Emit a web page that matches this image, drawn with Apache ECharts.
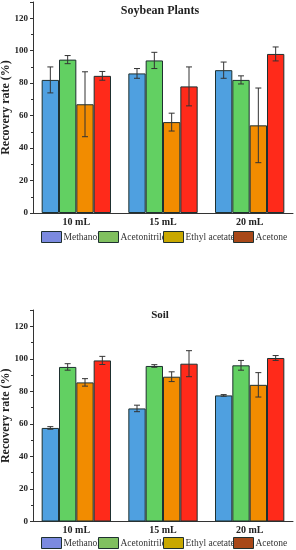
<!DOCTYPE html>
<html>
<head>
<meta charset="utf-8">
<script src="https://cdn.jsdelivr.net/npm/echarts@6/dist/echarts.min.js"></script>
<style>html,body{margin:0;padding:0;background:#fff;}#c{width:296px;height:550px;}</style>
</head>
<body>
<div id="c"></div>
<script>
var categories = ['10 mL', '15 mL', '20 mL'];
var seriesNames = ['Methanol', 'Acetonitrile', 'Ethyl acetate', 'Acetone'];
var yTicks = [0, 20, 40, 60, 80, 100, 120];

var soyMethanol = [82, 86, 88];
var soyMethanolErr = [8, 3, 5];
var soyAcetonitrile = [94.5, 94, 82];
var soyAcetonitrileErr = [2.5, 5, 2.5];
var soyEthyl = [67, 56, 54];
var soyEthylErr = [20, 5.5, 23];
var soyAcetone = [84.5, 78, 98];
var soyAcetoneErr = [2.7, 12, 4.3];

var soilMethanol = [57.5, 69.5, 77.5];
var soilMethanolErr = [0.8, 2, 0.5];
var soilAcetonitrile = [95, 95.6, 96];
var soilAcetonitrileErr = [2, 0.8, 3];
var soilEthyl = [85.5, 89, 84];
var soilEthylErr = [2.3, 3, 7.5];
var soilAcetone = [99, 97, 100.5];
var soilAcetoneErr = [2.5, 8, 1.5];

var barColors = ['#4fa0e0', '#62d062', '#f28c00', '#ff2a1a'];
var legendColors = ['#7b8ae0', '#80c060', '#c8a800', '#a84818'];
var serif = '"Liberation Serif", "DejaVu Serif", serif';

var soyVals = [soyMethanol, soyAcetonitrile, soyEthyl, soyAcetone];
var soyErrs = [soyMethanolErr, soyAcetonitrileErr, soyEthylErr, soyAcetoneErr];
var soilVals = [soilMethanol, soilAcetonitrile, soilEthyl, soilAcetone];
var soilErrs = [soilMethanolErr, soilAcetonitrileErr, soilEthylErr, soilAcetoneErr];

var catGap = 0.2;

function errData(vals, errs) {
  var out = [];
  for (var s = 0; s < vals.length; s++) {
    for (var i = 0; i < categories.length; i++) {
      out.push([i, vals[s][i], errs[s][i], s]);
    }
  }
  return out;
}

function renderErr(params, api) {
  var idx = api.value(0), v = api.value(1), e = api.value(2), s = api.value(3);
  var p = api.coord([idx, v]);
  var hi = api.coord([idx, v + e]);
  var lo = api.coord([idx, v - e]);
  var band = api.size([1, 0])[0];
  var bw = band * (1 - catGap) / 4;
  var x = p[0] + (s - 1.5) * bw;
  var cap = 3;
  var st = { stroke: '#333', lineWidth: 1 };
  return {
    type: 'group',
    children: [
      { type: 'line', shape: { x1: x, y1: hi[1], x2: x, y2: lo[1] }, style: st },
      { type: 'line', shape: { x1: x - cap, y1: hi[1], x2: x + cap, y2: hi[1] }, style: st },
      { type: 'line', shape: { x1: x - cap, y1: lo[1], x2: x + cap, y2: lo[1] }, style: st }
    ]
  };
}

function xAxis(gi) {
  return {
    type: 'category', gridIndex: gi, data: categories,
    axisLine: { lineStyle: { color: '#333', width: 1 } },
    axisTick: { show: false },
    axisLabel: { fontFamily: serif, fontWeight: 'bold', fontSize: 10, color: '#222', margin: 4 }
  };
}
function yAxis(gi) {
  return {
    type: 'value', gridIndex: gi, min: 0, max: 130, interval: 20,
    name: 'Recovery rate (%)', nameLocation: 'middle', nameGap: 21, nameMoveOverlap: false,
    nameTextStyle: { fontFamily: serif, fontWeight: 'bold', fontSize: 12, color: '#222' },
    axisLine: { show: true, lineStyle: { color: '#333', width: 1 } },
    axisTick: { show: true, length: 3, lineStyle: { color: '#333' } },
    minorTick: { show: true, splitNumber: 2, length: 2, lineStyle: { color: '#333' } },
    splitLine: { show: false },
    axisLabel: { fontFamily: serif, fontWeight: 'bold', fontSize: 9, color: '#222', margin: 5,
      formatter: function (v) { return yTicks.indexOf(v) >= 0 ? String(v) : ''; } }
  };
}

var series = [];
[soyVals, soilVals].forEach(function (vals, gi) {
  for (var s = 0; s < 4; s++) {
    series.push({
      type: 'bar', name: seriesNames[s], xAxisIndex: gi, yAxisIndex: gi,
      data: vals[s], barGap: '0%', barCategoryGap: (catGap * 100) + '%',
      itemStyle: { color: barColors[s], borderColor: '#1e3030', borderWidth: 1 },
      z: 2
    });
  }
});
series.push({ type: 'custom', xAxisIndex: 0, yAxisIndex: 0, renderItem: renderErr,
  data: errData(soyVals, soyErrs), z: 5, encode: { x: 0, y: 1 } });
series.push({ type: 'custom', xAxisIndex: 1, yAxisIndex: 1, renderItem: renderErr,
  data: errData(soilVals, soilErrs), z: 5, encode: { x: 0, y: 1 } });

var legendLefts = [41, 98, 163, 233];
var legends = [];
[231, 537].forEach(function (top) {
  for (var s = 0; s < 4; s++) {
    legends.push({
      left: legendLefts[s], top: top, itemWidth: 20, itemHeight: 11, icon: 'rect', padding: 0,
      selectedMode: false, z: 10 + s,
      data: [{ name: seriesNames[s], itemStyle: { color: legendColors[s], borderColor: '#1e3030', borderWidth: 1 } }],
      textStyle: { fontFamily: serif, fontSize: 9.5, color: '#333', padding: [0, 0, 0, -3] }
    });
  }
});

var chart = echarts.init(document.getElementById('c'), null, { renderer: 'canvas' });
chart.setOption({
  animation: false,
  backgroundColor: '#fff',
  title: [
    { text: 'Soybean Plants', left: 155, textAlign: 'center', top: 0,
      textStyle: { fontFamily: serif, fontWeight: 'bold', fontSize: 12, color: '#222' } },
    { text: 'Soil', left: 155, textAlign: 'center', top: 305,
      textStyle: { fontFamily: serif, fontWeight: 'bold', fontSize: 11, color: '#222' } }
  ],
  legend: legends,
  grid: [
    { left: 33, top: 2, width: 260, height: 211, outerBoundsMode: 'none', containLabel: false },
    { left: 33, top: 310, width: 260, height: 211.5, outerBoundsMode: 'none', containLabel: false }
  ],
  xAxis: [xAxis(0), xAxis(1)],
  yAxis: [yAxis(0), yAxis(1)],
  series: series
});
</script>
</body>
</html>
